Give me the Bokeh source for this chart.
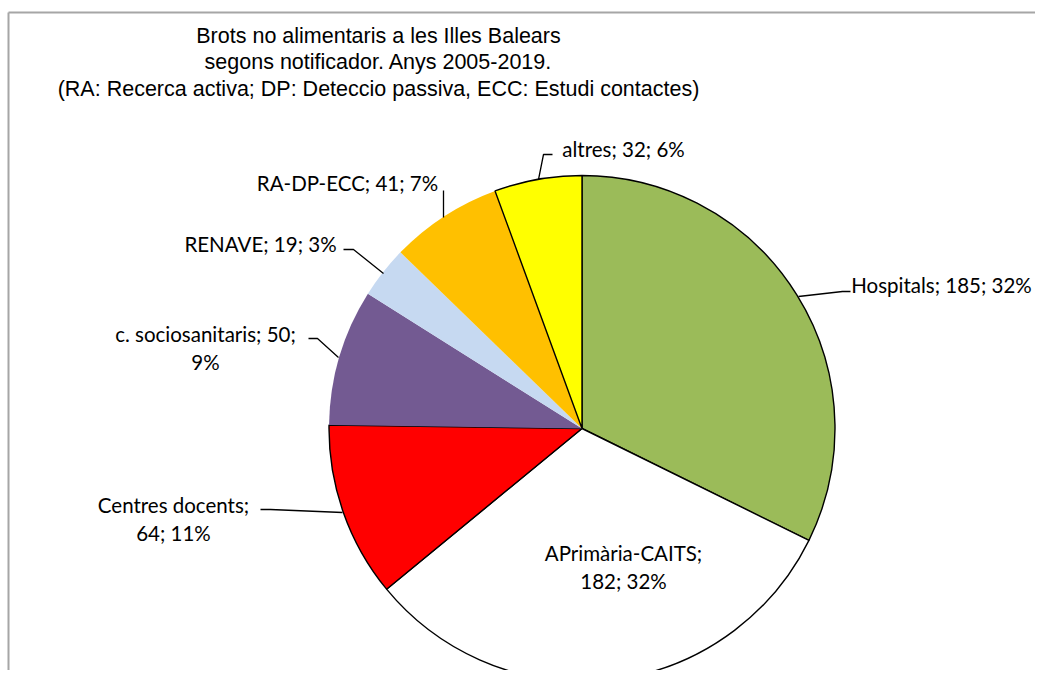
import numpy as np
from bokeh.plotting import figure
from bokeh.models import Range1d, ColumnDataSource
from bokeh.core.properties import value
from bokeh.embed import file_html
from bokeh.resources import INLINE

# ---------------- data ----------------
categories = ["Hospitals", "APrimària-CAITS", "Centres docents", "c. sociosanitaris",
              "RENAVE", "RA-DP-ECC", "altres"]
counts = [185, 182, 64, 50, 19, 41, 32]
colors = ["#9BBB59", "#FFFFFF", "#FF0000", "#735A92", "#C6D9F1", "#FFC000", "#FFFF00"]
outlined = [True, True, True, False, False, False, True]
title_lines = ["Brots no alimentaris a les Illes Balears",
               "segons notificador. Anys 2005-2019.",
               "(RA: Recerca activa; DP: Deteccio passiva, ECC: Estudi contactes)"]

# ---------------- layout (pixels of the picture) ----------------
W, H = 1035, 670
OX, OY = 0, 0


def sx(x):
    return x - OX


def sy(y):
    return (OY + H) - y


CX, CY, R = 581.5, 428.0, 253.0

# label anchor (centre x, first line y), parts on first line
label_pos = [(941, 284, 3), (623, 552, 1), (173, 504, 1), (205, 333, 2),
             (260, 243, 3), (347, 182, 3), (623, 148, 3)]
line_gap = 28.5
leaders = [
    [(798, 296), (842, 291), (850, 291)],
    None,
    [(342, 512), (270, 509), (260, 509)],
    [(338, 357), (317, 338), (308, 338)],
    [(383, 273), (353, 249), (343, 249)],
    [(443, 217), (443, 190)],
    [(538, 179), (543, 154), (552, 154)],
]

total = float(sum(counts))
cum = np.concatenate([[0], np.cumsum(counts)])
start = 90 - 360 * cum[:-1] / total
end = 90 - 360 * cum[1:] / total
pcts = [int(round(100 * c / total)) for c in counts]

p = figure(width=W, height=H, x_range=Range1d(0, W), y_range=Range1d(0, H),
           output_backend="svg", toolbar_location=None, min_border=0,
           x_axis_location=None, y_axis_location=None)
p.grid.visible = False
p.outline_line_color = None
p.background_fill_color = "white"
p.border_fill_color = "white"

# chart-area frame (Excel style grey border)
p.segment(x0=[sx(8), sx(8)], y0=[sy(12), sy(12)], x1=[sx(8), W + 5], y1=[-5, sy(12)],
          line_color="#A6A6A6", line_width=2)

src = ColumnDataSource(dict(start=start, end=end, color=colors,
                            lc=["#000000" if o else None for o in outlined],
                            lw=[1.4 if o else 0 for o in outlined]))
p.wedge(x=sx(CX), y=sy(CY), radius=R, start_angle="start", end_angle="end",
        start_angle_units="deg", end_angle_units="deg", direction="clock",
        fill_color="color", line_color="lc", line_width="lw", source=src)

# leader lines
xs, ys = [], []
for ld in leaders:
    if ld is None:
        continue
    xs.append([sx(a) for a, b in ld])
    ys.append([sy(b) for a, b in ld])
p.multi_line(xs=xs, ys=ys, line_color="#000000", line_width=1.3)

# data labels
tx, ty, tt = [], [], []
for cat, c, pc, (lx, ly, k) in zip(categories, counts, pcts, label_pos):
    parts = [cat, str(c), f"{pc}%"]
    first = "; ".join(parts[:k])
    if k < 3:
        lines = [first + ";", "; ".join(parts[k:])]
    else:
        lines = [first]
    for i, ln in enumerate(lines):
        tx.append(sx(lx))
        ty.append(sy(ly + i * line_gap))
        tt.append(ln)
p.text(x=tx, y=ty, text=tt, text_font=value("Lato"), text_font_size="20.5px",
       text_align="center", text_baseline="middle", text_color="#000000")

# title
p.text(x=[sx(378)] * 3, y=[sy(35), sy(61.5), sy(88)], text=title_lines,
       text_font=value("Liberation Sans"), text_font_size="21.5px",
       text_align="center", text_baseline="middle", text_color="#000000")

open("out.html", "w").write(file_html(p, INLINE))
